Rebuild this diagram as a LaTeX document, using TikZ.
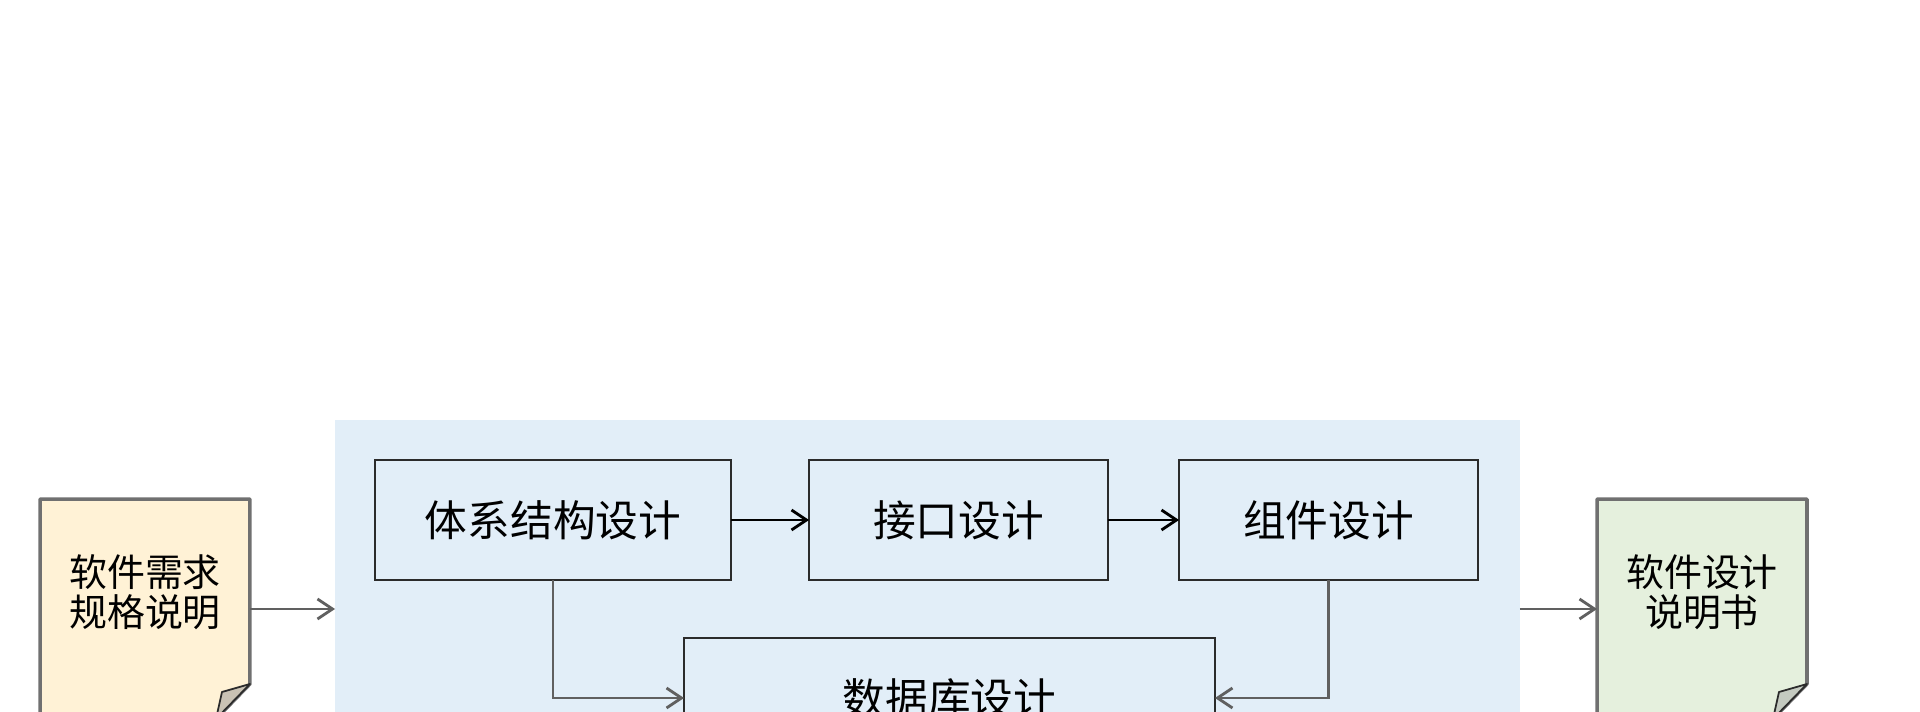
\documentclass[tikz,border=0pt]{standalone}
\usepackage{fontspec}
\newfontfamily\cjk{Noto Sans CJK SC}
\usetikzlibrary{arrows.meta,calc}
\definecolor{panelblue}{RGB}{226,238,248}
\definecolor{reqfill}{RGB}{255,242,214}
\definecolor{specfill}{RGB}{229,240,221}
\definecolor{docline}{RGB}{112,112,112}
\definecolor{boxline}{RGB}{43,43,43}
\definecolor{linkgrey}{RGB}{96,96,96}
\definecolor{foldreq}{RGB}{201,194,180}
\definecolor{foldspec}{RGB}{196,202,192}
\tikzset{
  stagebox/.style={draw=boxline, line width=1.5pt, fill=panelblue, inner sep=0pt, outer sep=0pt,
    minimum height=2.4cm, font=\cjk\fontsize{24.3}{28}\selectfont},
  docframe/.style={inner sep=0pt, outer sep=0pt, minimum width=4.2cm, minimum height=4.4cm},
  doctext/.style={align=center, inner sep=0pt, font=\cjk\fontsize{21.6}{22.8}\selectfont},
  arr/.style={line width=1.6pt, -{Straight Barb[length=0.3cm,width=0.4cm,line width=1.6pt]}},
  greyarr/.style={arr, draw=linkgrey},
}
\begin{document}
\begin{tikzpicture}[x=0.02cm, y=-0.02cm]
\useasboundingbox (0,0) rectangle (1920,712);
\clip (0,0) rectangle (1920,712);

% design-phase panel
\node[fill=panelblue, inner sep=0pt, outer sep=0pt, minimum width=23.7cm, minimum height=9.6cm,
  anchor=north west] (pnl) at (335,420) {};

% input and output documents with a folded corner
\node[docframe] (req) at (145,609) {};
\draw[docline, line width=2pt, fill=reqfill, line join=round]
  (req.north west) -- (req.north east) -- ([yshift=0.7cm]req.south east)
  -- ([xshift=-0.68cm]req.south east) -- (req.south west) -- cycle;
\draw[boxline, line width=1pt, fill=foldreq, line join=round]
  ([yshift=0.7cm]req.south east) -- ([xshift=-0.56cm,yshift=0.54cm]req.south east)
  -- ([xshift=-0.68cm]req.south east) -- cycle;
\node[doctext] (reqtxt) at (145,592) {软件需求\\规格说明};

\node[docframe] (spec) at (1702,609) {};
\draw[docline, line width=2pt, fill=specfill, line join=round]
  (spec.north west) -- (spec.north east) -- ([yshift=0.7cm]spec.south east)
  -- ([xshift=-0.68cm]spec.south east) -- (spec.south west) -- cycle;
\draw[boxline, line width=1pt, fill=foldspec, line join=round]
  ([yshift=0.7cm]spec.south east) -- ([xshift=-0.56cm,yshift=0.54cm]spec.south east)
  -- ([xshift=-0.68cm]spec.south east) -- cycle;
\node[doctext] (spectxt) at (1702,592) {软件设计\\说明书};

% design stages
\node[stagebox, minimum width=7.12cm] (arch) at (553,520) {体系结构设计};
\node[stagebox, minimum width=5.98cm] (iface) at (958.5,520) {接口设计};
\node[stagebox, minimum width=5.98cm] (comp) at (1328.5,520) {组件设计};
\node[stagebox, minimum width=10.62cm] (db) at (949.5,698) {数据库设计};

% flow
\draw[arr] (arch) -- (iface);
\draw[arr] (iface) -- (comp);
\draw[greyarr] (arch.south) |- (db.west);
\draw[greyarr] (comp.south) |- (db.east);
\draw[greyarr] (req.east) -- (req.east -| pnl.west);
\draw[greyarr] (spec.west -| pnl.east) -- (spec.west);
\end{tikzpicture}
\end{document}
